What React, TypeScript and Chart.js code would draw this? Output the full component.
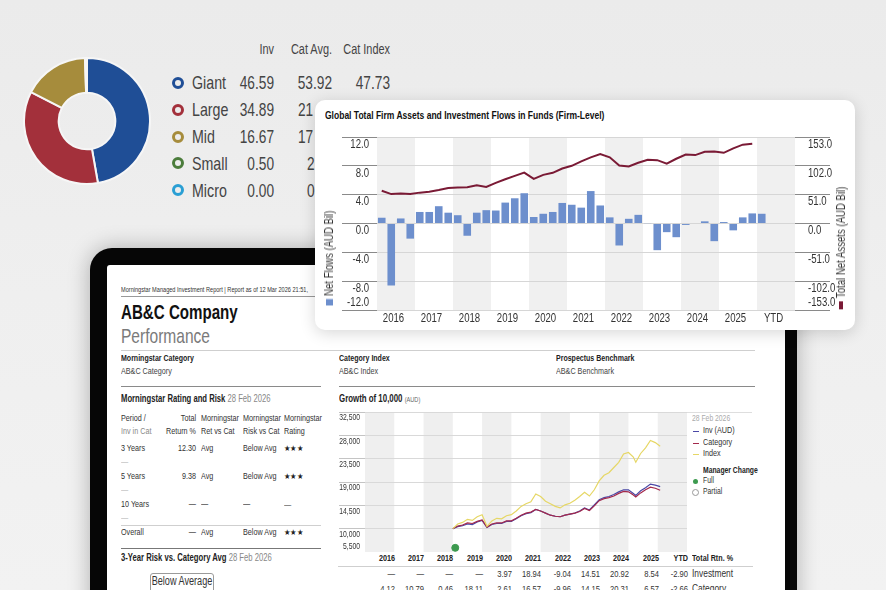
import React, { useEffect, useRef } from "react";
import { Chart, registerables } from "chart.js";
Chart.register(...registerables);

const FONT = "'Liberation Sans', Arial, sans-serif";
const SX = 0.8;
Chart.defaults.font.family = FONT;
Chart.defaults.color = "#333";

// ---------- Market cap donut ----------
const capLabels = ["Giant", "Large", "Mid", "Small", "Micro"];
const capInv = [46.59, 34.89, 16.67, 0.5, 0.0];
const capCatAvg = ["53.92", "21", "17", "2", "0"];
const capCatIndex = ["47.73", "", "", "", ""];
const capColors = ["#1f4e96", "#a3303b", "#a68c3c", "#4b7c3b", "#2a9fd4"];

// ---------- Flows card ----------
const flowYears = ["2016", "2017", "2018", "2019", "2020", "2021", "2022", "2023", "2024", "2025", "YTD"];
const netFlows = [
  0.8, -8.6, 0.7, -2.1,
  1.6, 1.6, 2.4, 1.5,
  1.15, -1.7, 1.5, 1.85,
  1.8, 2.9, 3.5, 4.2,
  0.9, 1.35, 1.6, 2.85,
  2.6, 2.2, 4.5, 2.5,
  0.85, -3.05, 0.65, 1.2,
  0.05, -3.7, -1.2, -1.9,
  -0.2, 0, 0.3, -2.45,
  0.2, -0.95, 0.85, 1.4,
  1.35,
];
const totalNetAssets = [
  58, 52, 53, 52,
  54.6, 56.3, 59.3, 62.9,
  63.5, 64, 67.6, 64.6,
  71.8, 78.3, 84.2, 90,
  78.9, 86, 89.6, 97.3,
  102, 110, 117, 122.8,
  117, 102.6, 100.8, 107.4,
  112.7, 112, 106, 114.5,
  122, 121, 127, 127.5,
  125, 133, 139.4, 141,
];
const quarters = ["Q1", "Q2", "Q3", "Q4"];

// ---------- Growth of 10,000 ----------
const growthYears = ["2016", "2017", "2018", "2019", "2020", "2021", "2022", "2023", "2024", "2025", "YTD"];
const growthDates = [
  "2019-01", "2019-03", "2019-05", "2019-07", "2019-09", "2019-11",
  "2020-01", "2020-03", "2020-05", "2020-07", "2020-09", "2020-11",
  "2021-01", "2021-03", "2021-05", "2021-07", "2021-09", "2021-11",
  "2022-01", "2022-03", "2022-05", "2022-07", "2022-09", "2022-11",
  "2023-01", "2023-03", "2023-05", "2023-07", "2023-09", "2023-11",
  "2024-01", "2024-03", "2024-05", "2024-07", "2024-09", "2024-11",
  "2025-01", "2025-03", "2025-04", "2025-06", "2025-08", "2025-10", "2025-12", "2026-02",
];
const indexGrowth = [
  10000, 10900, 11200, 11800, 11600, 12300,
  12700, 10450, 11500, 12000, 11900, 12500,
  12700, 13400, 14300, 14800, 15200, 16700,
  16200, 15300, 14800, 14300, 14000, 14600,
  14900, 15500, 16200, 17000, 16300, 17500,
  19200, 20300, 20800, 21800, 22800, 24400,
  24700, 23800, 22800, 24500, 25600, 27000, 26600, 25900,
];
const invGrowth = [
  10000, 10400, 10600, 10900, 10800, 11300,
  11600, 10250, 10800, 11000, 11000, 11400,
  11400, 11900, 12500, 12900, 13100, 13700,
  13400, 13000, 12600, 12400, 12300, 12600,
  12800, 13000, 13400, 14000, 13600, 14600,
  15600, 16000, 16200, 16600, 17100, 17500,
  17500, 16800, 16400, 17300, 17900, 18600, 18400, 18100,
];
const catGrowth = [
  10000, 10500, 10700, 11100, 11000, 11400,
  11700, 10300, 10900, 11100, 11100, 11500,
  11500, 12000, 12600, 13000, 13200, 13700,
  13400, 13000, 12600, 12400, 12300, 12600,
  12800, 13000, 13300, 13900, 13500, 14400,
  15400, 15800, 16000, 16300, 16800, 17200,
  17100, 16500, 16100, 16900, 17500, 18000, 17800, 17400,
];
const managerChange = { date: "2019-02", value: 6300 };
const invReturns = ["—", "—", "—", "—", "3.97", "18.94", "-9.04", "14.51", "20.92", "8.54", "-2.90"];
const catReturns = ["4.12", "10.79", "0.46", "18.11", "2.61", "16.57", "-9.96", "14.15", "20.31", "6.57", "-2.66"];

// ---------- Rating table ----------
const ratingPeriods = ["3 Years", "5 Years", "10 Years"];
const ratingReturns = ["12.30", "9.38", "—"];
const ratingRetVsCat = ["Avg", "Avg", "—"];
const ratingRiskVsCat = ["Below Avg", "Below Avg", "—"];
const ratingStars = ["★★★", "★★★", "—"];
const overallRow = ["—", "Avg", "Below Avg", "★★★"];

const toYear = (d: string) => {
  const [y, m] = d.split("-").map(Number);
  return y + (m - 1) / 12;
};

function condText(ctx: any, text: string, x: number, y: number, align: string, sx: number) {
  ctx.save();
  ctx.translate(x, y);
  ctx.scale(sx, 1);
  ctx.textAlign = align;
  ctx.textBaseline = "middle";
  ctx.fillText(text, 0, 0);
  ctx.restore();
}

type Ax = { id: string; side: "left" | "right"; inset: number; off: number; offMin: number; size: number; fmt: (v: number) => string };
function yLabelPlugin(axes: Ax[]) {
  return {
    id: "yLabels",
    afterDraw(chart: any) {
      const ctx = chart.ctx;
      axes.forEach((a) => {
        const sc = chart.scales[a.id];
        ctx.save();
        ctx.font = `${a.size}px ${FONT}`;
        ctx.fillStyle = "#333";
        const x = a.side === "left" ? sc.right - a.inset : sc.left + a.inset;
        sc.ticks.forEach((t: any) => {
          const py = sc.getPixelForValue(t.value);
          const isMin = t.value === sc.min;
          condText(ctx, a.fmt(t.value), x, py + (isMin ? -a.offMin : a.off), a.side === "left" ? "right" : "left", SX);
        });
        ctx.restore();
      });
    },
  };
}

function ChartCanvas({ make, left, top, width, height }: { make: () => any; left: number; top: number; width: number; height: number }) {
  const ref = useRef<HTMLCanvasElement>(null);
  useEffect(() => {
    const chart = new Chart(ref.current as HTMLCanvasElement, make());
    return () => chart.destroy();
  }, []);
  return <canvas ref={ref} width={width} height={height} style={{ position: "absolute", left, top, width, height }} />;
}

function T({ x, y, s, b, c = "#333", a = "l", sx = SX, children }: { x: number; y: number; s: number; b?: boolean; c?: string; a?: "l" | "r" | "c"; sx?: number; children: React.ReactNode }) {
  const tx = a === "r" ? "translateX(-100%) " : a === "c" ? "translateX(-50%) " : "";
  const origin = a === "r" ? "right" : a === "c" ? "center" : "left";
  return (
    <div
      style={{
        position: "absolute",
        left: x,
        top: y - s * 0.55,
        fontSize: s,
        lineHeight: `${s * 1.1}px`,
        fontWeight: b ? 700 : 400,
        color: c,
        whiteSpace: "nowrap",
        transform: `${tx}scaleX(${sx})`,
        transformOrigin: `${origin} center`,
      }}
    >
      {children}
    </div>
  );
}

function Rule({ x1, x2, y, c = "#ccc", h = 1 }: { x1: number; x2: number; y: number; c?: string; h?: number }) {
  return <div style={{ position: "absolute", left: x1, top: y, width: x2 - x1, height: h, background: c }} />;
}

const makeDonut = () => ({
  type: "doughnut",
  data: {
    labels: capLabels,
    datasets: [{ data: capInv, backgroundColor: capColors, borderColor: "#f6f6f6", borderWidth: 2 }],
  },
  options: {
    responsive: false,
    animation: false,
    cutout: "45%",
    layout: { padding: 0 },
    plugins: { legend: { display: false }, tooltip: { enabled: false } },
  },
});

const makeFlows = () => {
  const slots = flowYears.flatMap((y) => quarters.map((q) => `${y} ${q}`));
  const bars = slots.map((_, i) => (i < netFlows.length ? netFlows[i] : null));
  const line = slots.map((_, i) => (i < totalNetAssets.length ? totalNetAssets[i] : null));
  const bands = {
    id: "flowBands",
    beforeDraw(chart: any) {
      const x = chart.scales.x;
      const { top, bottom, right } = chart.chartArea;
      const slot = x.getPixelForValue(1) - x.getPixelForValue(0);
      const ctx = chart.ctx;
      ctx.save();
      ctx.fillStyle = "#f0f0f0";
      flowYears.forEach((_, i) => {
        if (i % 2) return;
        const x0 = x.getPixelForValue(i * 4) - slot / 2;
        const x1 = Math.min(x.getPixelForValue(i * 4 + 3) + slot / 2, right);
        ctx.fillRect(x0, top, x1 - x0, bottom - top);
      });
      ctx.restore();
    },
    afterDraw(chart: any) {
      const x = chart.scales.x;
      const ctx = chart.ctx;
      ctx.save();
      ctx.font = `12px ${FONT}`;
      ctx.fillStyle = "#333";
      flowYears.forEach((yr, i) => {
        const cx = (x.getPixelForValue(i * 4) + x.getPixelForValue(i * 4 + 3)) / 2 - 2.5;
        condText(ctx, yr, cx, chart.chartArea.bottom + 8.5, "center", SX);
      });
      ctx.restore();
    },
  };
  return {
    type: "bar",
    data: {
      labels: slots,
      datasets: [
        { type: "line", label: "Total Net Assets (AUD Bil)", data: line, yAxisID: "y1", borderColor: "#7a1a35", borderWidth: 2, pointRadius: 0, tension: 0, order: 0 },
        { type: "bar", label: "Net Flows (AUD Bil)", data: bars, yAxisID: "y", backgroundColor: "#6d8fcd", barPercentage: 0.8, categoryPercentage: 1, order: 1 },
      ],
    },
    options: {
      responsive: false,
      animation: false,
      layout: { autoPadding: false, padding: { top: 9, right: 0, left: 0, bottom: 0 } },
      plugins: { legend: { display: false }, tooltip: { enabled: false } },
      scales: {
        x: {
          type: "category",
          offset: true,
          grid: { display: false, drawTicks: false },
          border: { display: false },
          ticks: { display: false },
          afterFit: (s: any) => {
            s.height = 18;
          },
        },
        y: {
          position: "left",
          min: -12,
          max: 12,
          ticks: { stepSize: 4, display: false },
          grid: { color: "#d6d6d6", tickColor: "#8a8a8a", tickLength: 35 },
          border: { display: false },
          afterFit: (s: any) => {
            s.width = 57;
          },
        },
        y1: {
          position: "right",
          min: -153,
          max: 153,
          ticks: { stepSize: 51, display: false },
          grid: { drawOnChartArea: false, tickColor: "#8a8a8a", tickLength: 35 },
          border: { display: false },
          afterFit: (s: any) => {
            s.width = 55;
          },
        },
      },
    },
    plugins: [
      bands,
      yLabelPlugin([
        { id: "y", side: "left", inset: 8, off: 7.5, offMin: 7, size: 12, fmt: (v) => v.toFixed(1) },
        { id: "y1", side: "right", inset: 13, off: 7.5, offMin: 7, size: 12, fmt: (v) => v.toFixed(1) },
      ]),
    ],
  };
};

const makeGrowth = () => {
  const xs = growthDates.map(toYear);
  const pts = (arr: number[]) => arr.map((v, i) => ({ x: xs[i], y: v }));
  const bands = {
    id: "growthBands",
    beforeDraw(chart: any) {
      const x = chart.scales.x;
      const { top, bottom } = chart.chartArea;
      const ctx = chart.ctx;
      ctx.save();
      ctx.fillStyle = "#efefef";
      growthYears.forEach((_, i) => {
        if (i % 2) return;
        const x0 = x.getPixelForValue(2016 + i);
        const x1 = x.getPixelForValue(2017 + i);
        ctx.fillRect(x0, top, x1 - x0, bottom - top);
      });
      ctx.restore();
    },
  };
  return {
    type: "line",
    data: {
      datasets: [
        { label: "Index", data: pts(indexGrowth), borderColor: "#e6d765", borderWidth: 1.2, pointRadius: 0, tension: 0 },
        { label: "Category", data: pts(catGrowth), borderColor: "#a3294c", borderWidth: 1.2, pointRadius: 0, tension: 0 },
        { label: "Inv (AUD)", data: pts(invGrowth), borderColor: "#4a48a6", borderWidth: 1.2, pointRadius: 0, tension: 0 },
        {
          label: "Full",
          data: [{ x: toYear(managerChange.date), y: managerChange.value }],
          showLine: false,
          pointRadius: 3.5,
          pointStyle: "circle",
          backgroundColor: "#3d9a4f",
          borderColor: "#3d9a4f",
        },
      ],
    },
    options: {
      responsive: false,
      animation: false,
      layout: { autoPadding: false, padding: { top: 8, right: 0, left: 0, bottom: 0 } },
      plugins: { legend: { display: false }, tooltip: { enabled: false } },
      scales: {
        x: { type: "linear", min: 2016, max: 2027, display: false },
        y: {
          min: 5500,
          max: 32500,
          ticks: { stepSize: 4500, display: false },
          grid: { color: "#d9d9d9", tickColor: "#c4c4c4", tickLength: 26 },
          border: { display: false },
          afterFit: (s: any) => {
            s.width = 29;
          },
        },
      },
    },
    plugins: [
      bands,
      yLabelPlugin([{ id: "y", side: "left", inset: 5, off: 6, offMin: 5, size: 8.5, fmt: (v) => v.toLocaleString("en-US") }]),
    ],
  };
};

const rotTitle = (left: number, top: number): React.CSSProperties => ({
  position: "absolute",
  left,
  top,
  transform: `translate(-50%,-50%) rotate(-90deg) scaleX(${SX})`,
  whiteSpace: "nowrap",
  fontSize: 12,
  lineHeight: "12px",
  color: "#333",
  display: "flex",
  alignItems: "center",
  gap: 4,
});

export default function App() {
  const rowY = (i: number) => 83.3 + i * 26.85;
  const colRight = (i: number) => 365 + 29.3 * (i + 1) + 0.5;
  const tRow = [449, 477, 505];
  return (
    <div
      style={{
        position: "fixed",
        left: 0,
        top: 0,
        width: 886,
        height: 590,
        overflow: "hidden",
        background: "linear-gradient(180deg, #ebebeb 0%, #efefef 50%, #f2f2f2 100%)",
        fontFamily: FONT,
      }}
    >
      {/* Donut */}
      <ChartCanvas make={makeDonut} left={23} top={57} width={128} height={128} />
      <T x={274} y={50} s={14} a="r" c="#444" sx={0.78}>Inv</T>
      <T x={332} y={50} s={14} a="r" c="#444" sx={0.78}>Cat Avg.</T>
      <T x={390} y={50} s={14} a="r" c="#444" sx={0.78}>Cat Index</T>
      {capLabels.map((l, i) => (
        <React.Fragment key={l}>
          <div
            style={{
              position: "absolute",
              left: 171.5,
              top: rowY(i) - 6.5,
              width: 6,
              height: 6,
              borderRadius: "50%",
              border: `3.5px solid ${capColors[i]}`,
            }}
          />
          <T x={192} y={rowY(i)} s={18.5} c="#444" sx={0.77}>{l}</T>
          <T x={274} y={rowY(i)} s={18.5} a="r" c="#444" sx={0.74}>{capInv[i].toFixed(2)}</T>
          {i === 0 ? (
            <T x={332} y={rowY(i)} s={18.5} a="r" c="#444" sx={0.74}>{capCatAvg[i]}</T>
          ) : (
            <T x={i < 3 ? 298 : 307} y={rowY(i)} s={18.5} c="#444" sx={0.74}>{capCatAvg[i]}</T>
          )}
          {capCatIndex[i] && <T x={390} y={rowY(i)} s={18.5} a="r" c="#444" sx={0.74}>{capCatIndex[i]}</T>}
        </React.Fragment>
      ))}

      {/* Tablet */}
      <div style={{ position: "absolute", left: 90, top: 248, width: 707, height: 400, background: "#060606", borderRadius: 22, boxShadow: "0 0 22px rgba(0,0,0,0.28)" }} />
      <div style={{ position: "absolute", left: 107, top: 265, width: 678, height: 360, background: "#ffffff", borderRadius: 3 }} />

      {/* Report */}
      <T x={121} y={290} s={7} c="#333">Morningstar Managed Investment Report | Report as of 12 Mar 2026 21:51,</T>
      <Rule x1={121} x2={320} y={296} c="#999" />
      <T x={121} y={312} s={21} b c="#111" sx={0.72}>AB&amp;C Company</T>
      <T x={121} y={336} s={21} c="#7a7a7a" sx={0.74}>Performance</T>
      <Rule x1={121} x2={755} y={350} c="#cfcfcf" />
      <T x={121} y={359} s={9} b c="#222" sx={0.78}>Morningstar Category</T>
      <T x={121} y={372} s={9} c="#444">AB&amp;C Category</T>
      <T x={339} y={359} s={9} b c="#222" sx={0.78}>Category Index</T>
      <T x={339} y={372} s={9} c="#444">AB&amp;C Index</T>
      <T x={556} y={359} s={9} b c="#222" sx={0.78}>Prospectus Benchmark</T>
      <T x={556} y={372} s={9} c="#444">AB&amp;C Benchmark</T>
      <Rule x1={121} x2={321} y={386} c="#8a8a8a" />
      <Rule x1={339} x2={755} y={386} c="#8a8a8a" />
      <T x={121} y={399} s={10.5} b c="#222" sx={0.73}>
        Morningstar Rating and Risk <span style={{ fontWeight: 400, color: "#888" }}>28 Feb 2026</span>
      </T>
      <T x={339} y={399} s={10.5} b c="#222" sx={0.75}>
        Growth of 10,000 <span style={{ fontWeight: 400, color: "#666", fontSize: 7.5 }}>(AUD)</span>
      </T>

      {/* rating table */}
      <T x={121} y={419} s={9} c="#333">Period /</T>
      <T x={121} y={432} s={9} c="#888">Inv in Cat</T>
      <T x={196} y={419} s={9} a="r" c="#333">Total</T>
      <T x={196} y={432} s={9} a="r" c="#333">Return %</T>
      <T x={201} y={419} s={9} c="#333">Morningstar</T>
      <T x={201} y={432} s={9} c="#333">Ret vs Cat</T>
      <T x={243} y={419} s={9} c="#333">Morningstar</T>
      <T x={243} y={432} s={9} c="#333">Risk vs Cat</T>
      <T x={284} y={419} s={9} c="#333">Morningstar</T>
      <T x={284} y={432} s={9} c="#333">Rating</T>
      {ratingPeriods.map((p, i) => (
        <React.Fragment key={p}>
          <T x={121} y={tRow[i]} s={9} c="#333">{p}</T>
          <T x={121} y={tRow[i] + 14} s={9} c="#bbb">—</T>
          <T x={196} y={tRow[i]} s={9} a="r" c="#333">{ratingReturns[i]}</T>
          <T x={201} y={tRow[i]} s={9} c="#333">{ratingRetVsCat[i]}</T>
          <T x={243} y={tRow[i]} s={9} c="#333">{ratingRiskVsCat[i]}</T>
          <T x={284} y={tRow[i]} s={8} c="#222" sx={0.9}>{ratingStars[i]}</T>
        </React.Fragment>
      ))}
      <Rule x1={121} x2={321} y={525} c="#cfcfcf" />
      <T x={121} y={533} s={9} c="#333">Overall</T>
      <T x={196} y={533} s={9} a="r" c="#333">{overallRow[0]}</T>
      <T x={201} y={533} s={9} c="#333">{overallRow[1]}</T>
      <T x={243} y={533} s={9} c="#333">{overallRow[2]}</T>
      <T x={284} y={533} s={8} c="#222" sx={0.9}>{overallRow[3]}</T>
      <Rule x1={121} x2={321} y={548} c="#777" />
      <T x={121} y={558} s={10.5} b c="#222" sx={0.73}>
        3-Year Risk vs. Category Avg <span style={{ fontWeight: 400, color: "#888" }}>28 Feb 2026</span>
      </T>
      <div style={{ position: "absolute", left: 150, top: 573, width: 62, height: 19, border: "1px solid #9a9a9a", borderRadius: 3 }} />
      <T x={181.5} y={582} s={12} c="#333" a="c" sx={0.76}>Below Average</T>

      {/* growth chart */}
      <ChartCanvas make={makeGrowth} left={336} top={404} width={351} height={148} />
      <Rule x1={687} x2={752} y={412} c="#dedede" />
      <T x={692} y={419} s={8.5} c="#aaa">28 Feb 2026</T>
      {[
        ["Inv (AUD)", "#4a48a6", 431],
        ["Category", "#a3294c", 443],
        ["Index", "#e6d765", 454],
      ].map(([l, c, y]) => (
        <React.Fragment key={l as string}>
          <Rule x1={693} x2={699} y={(y as number) - 0.5} c={c as string} h={1.5} />
          <T x={703} y={y as number} s={9} c="#333">{l}</T>
        </React.Fragment>
      ))}
      <T x={703} y={471} s={8.5} b c="#222">Manager Change</T>
      <div style={{ position: "absolute", left: 692.5, top: 478.5, width: 5, height: 5, borderRadius: "50%", background: "#3d9a4f" }} />
      <T x={703} y={481} s={8.5} c="#333">Full</T>
      <div style={{ position: "absolute", left: 692, top: 489, width: 5, height: 5, borderRadius: "50%", border: "1px solid #999" }} />
      <T x={703} y={492} s={8.5} c="#333">Partial</T>
      {growthYears.map((y, i) => (
        <T key={y} x={colRight(i)} y={559} s={9} b a="r" c="#222">{y}</T>
      ))}
      <T x={692} y={559} s={9} b c="#222">Total Rtn. %</T>
      <Rule x1={338} x2={753} y={566} c="#cfcfcf" />
      {invReturns.map((v, i) => (
        <T key={"i" + i} x={colRight(i)} y={574} s={9.5} a="r" c="#333">{v}</T>
      ))}
      <T x={692} y={574} s={10.5} c="#333">Investment</T>
      {catReturns.map((v, i) => (
        <T key={"c" + i} x={colRight(i)} y={589} s={9.5} a="r" c="#333">{v}</T>
      ))}
      <T x={692} y={589} s={10.5} c="#333">Category</T>

      {/* Flows card */}
      <div style={{ position: "absolute", left: 315, top: 100, width: 540, height: 230, background: "#fff", borderRadius: 10, boxShadow: "0 3px 16px rgba(0,0,0,0.16)" }} />
      <T x={325} y={115.5} s={11.5} b c="#111" sx={0.74}>Global Total Firm Assets and Investment Flows in Funds (Firm-Level)</T>
      <ChartCanvas make={makeFlows} left={320} top={128} width={530} height={200} />
      <div style={rotTitle(329, 258)}>
        <span style={{ display: "inline-block", width: 8, height: 7, background: "#6d8fcd" }} />
        Net Flows (AUD Bil)
      </div>
      <div style={rotTitle(841, 248)}>
        <span style={{ display: "inline-block", width: 10, height: 4, background: "#7a1a35" }} />
        Total Net Assets (AUD Bil)
      </div>
    </div>
  );
}
